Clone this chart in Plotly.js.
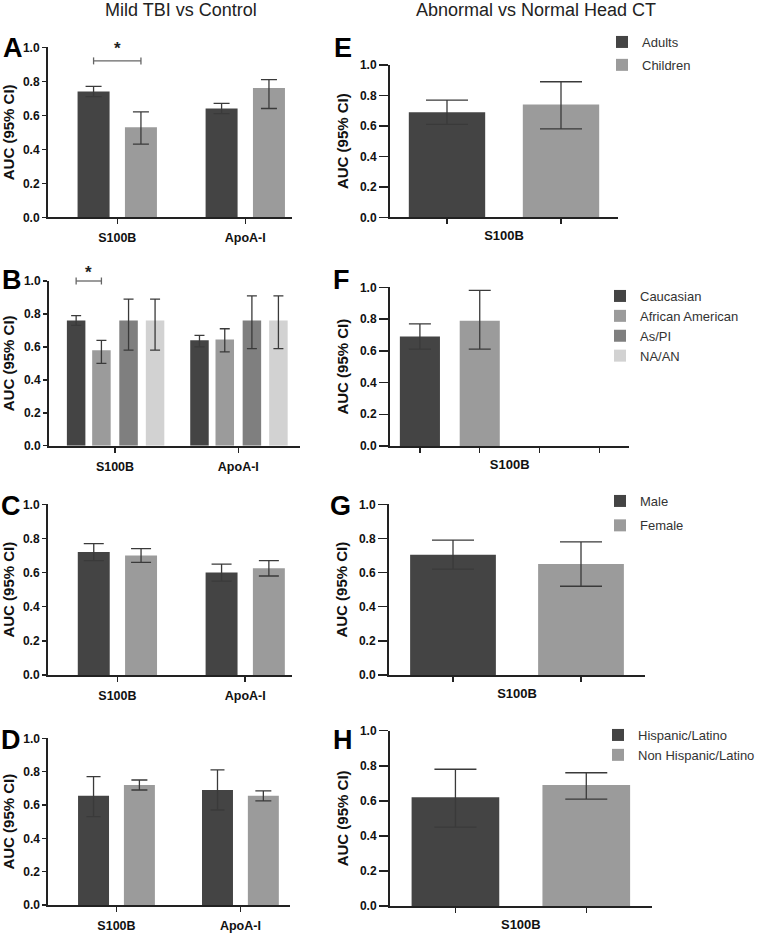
<!DOCTYPE html>
<html>
<head>
<meta charset="utf-8">
<script src="https://cdn.plot.ly/plotly-3.0.1.min.js"></script>
<style>
  html, body { margin: 0; padding: 0; background: #fff; }
  #chart { width: 765px; height: 933px; }
</style>
</head>
<body>
<div id="chart"></div>
<script>
// --- Data (AUC with 95% CI) ---

const mildGroups = ["S100B", "ApoA-I"];

// A: age
const ageNames = ["Adults", "Children"];
const adultsAuc = [0.74, 0.64];
const adultsLo = [0.71, 0.61];
const adultsHi = [0.77, 0.67];
const childrenAuc = [0.53, 0.76];
const childrenLo = [0.43, 0.64];
const childrenHi = [0.62, 0.81];

// B: race
const raceNames = ["Caucasian", "African American", "As/PI", "NA/AN"];
const raceAuc = [[0.76, 0.64], [0.58, 0.645], [0.76, 0.76], [0.76, 0.76]];
const raceLo = [[0.73, 0.60], [0.50, 0.57], [0.58, 0.59], [0.58, 0.59]];
const raceHi = [[0.79, 0.67], [0.64, 0.71], [0.89, 0.91], [0.89, 0.91]];

// C: sex
const sexNames = ["Male", "Female"];
const maleAuc = [0.72, 0.60];
const maleLo = [0.67, 0.55];
const maleHi = [0.77, 0.65];
const femaleAuc = [0.70, 0.625];
const femaleLo = [0.66, 0.58];
const femaleHi = [0.74, 0.67];

// D: ethnicity
const ethNames = ["Hispanic/Latino", "Non Hispanic/Latino"];
const hispAuc = [0.655, 0.69];
const hispLo = [0.53, 0.57];
const hispHi = [0.77, 0.81];
const nonHispAuc = [0.72, 0.655];
const nonHispLo = [0.69, 0.625];
const nonHispHi = [0.75, 0.685];

// E-H: abnormal vs normal head CT, S100B only
const ctAgeAuc = [0.69, 0.74];
const ctAgeLo = [0.61, 0.58];
const ctAgeHi = [0.77, 0.89];
const ctRaceAuc = [0.69, 0.79];
const ctRaceLo = [0.61, 0.61];
const ctRaceHi = [0.77, 0.98];
const ctSexAuc = [0.705, 0.65];
const ctSexLo = [0.62, 0.52];
const ctSexHi = [0.79, 0.78];
const ctEthAuc = [0.62, 0.69];
const ctEthLo = [0.45, 0.61];
const ctEthHi = [0.78, 0.76];

const yTicks = [0, 0.2, 0.4, 0.6, 0.8, 1.0];

// --- Styles ---
const DARK = "#444444";
const LIGHT = "#9b9b9b";
const MID = "#7f7f7f";
const PALE = "#d2d2d2";
const raceColors = [DARK, LIGHT, MID, PALE];
const FONT = "Liberation Sans, Arial, sans-serif";
const W = 765, H = 933;

// pixel boxes of each subplot (x: left/right, y: top(1.0)/bottom(0.0))
const panels = {
    A: { n: 1, x: [48, 292], y: [47.3, 217.3], range: [-0.541, 1.365] },
    B: { n: 2, x: [49, 300], y: [281, 445.7], range: [-0.535, 1.5] },
    C: { n: 3, x: [48, 292], y: [504.3, 675], range: [-0.543, 1.366] },
    D: { n: 4, x: [48.3, 290], y: [738.3, 905], range: [-0.55, 1.4] },
    E: { n: 5, x: [390, 618], y: [65, 217.3], range: [-0.5, 1.5] },
    F: { n: 6, x: [390, 629.3], y: [287.3, 446], range: [-0.5, 3.5] },
    G: { n: 7, x: [389, 645], y: [504.3, 675], range: [-0.5, 1.5] },
    H: { n: 8, x: [390, 651.7], y: [730.7, 906], range: [-0.5, 1.5] },
};

function errs(val, lo, hi) {
    return {
        type: "data",
        symmetric: false,
        array: val.map((v, i) => hi[i] - v),
        arrayminus: val.map((v, i) => v - lo[i]),
    };
}

function bar(p, name, x, y, lo, hi, color, width, offset, cap, legend) {
    const sfx = p.n === 1 ? "" : p.n;
    return {
        type: "bar",
        name: name,
        x: x,
        y: y,
        width: width,
        offset: offset,
        xaxis: "x" + sfx,
        yaxis: "y" + sfx,
        marker: { color: color, line: { width: 0 } },
        error_y: Object.assign(errs(y, lo, hi), { color: "#3a3a3a", thickness: 1.3, width: cap }),
        showlegend: !!legend,
        legend: legend || "legend",
        legendgroup: legend ? name : undefined,
        hoverinfo: "none",
    };
}

const traces = [];
const P = panels;

// A
traces.push(bar(P.A, ageNames[0], mildGroups, adultsAuc, adultsLo, adultsHi, DARK, 0.25, -0.31, 8, "legend"));
traces.push(bar(P.A, ageNames[1], mildGroups, childrenAuc, childrenLo, childrenHi, LIGHT, 0.25, 0.06, 8, "legend"));
// B
const raceOffsets = [-0.39, -0.185, 0.035, 0.25];
raceNames.forEach((nm, i) => {
    traces.push(bar(P.B, nm, mildGroups, raceAuc[i], raceLo[i], raceHi[i], raceColors[i], 0.15, raceOffsets[i], 5, "legend2"));
});
// C
traces.push(bar(P.C, sexNames[0], mildGroups, maleAuc, maleLo, maleHi, DARK, 0.25, -0.31, 10, "legend3"));
traces.push(bar(P.C, sexNames[1], mildGroups, femaleAuc, femaleLo, femaleHi, LIGHT, 0.25, 0.06, 10, "legend3"));
// D
traces.push(bar(P.D, ethNames[0], mildGroups, hispAuc, hispLo, hispHi, DARK, 0.25, -0.31, 7, "legend4"));
traces.push(bar(P.D, ethNames[1], mildGroups, nonHispAuc, nonHispLo, nonHispHi, LIGHT, 0.25, 0.06, 8, "legend4"));

// E-H : one bar per category
function ctBars(p, names, auc, lo, hi, colors, cap) {
    names.forEach((nm, i) => {
        if (i >= auc.length) return;
        traces.push(bar(p, nm, [nm], [auc[i]], [lo[i]], [hi[i]], colors[i], 0.67, -0.335, cap, null));
    });
}
ctBars(P.E, ageNames, ctAgeAuc, ctAgeLo, ctAgeHi, [DARK, LIGHT], 21);
ctBars(P.F, raceNames, ctRaceAuc, ctRaceLo, ctRaceHi, raceColors, 11);
ctBars(P.G, sexNames, ctSexAuc, ctSexLo, ctSexHi, [DARK, LIGHT], 21);
ctBars(P.H, ethNames, ctEthAuc, ctEthLo, ctEthHi, [DARK, LIGHT], 21);

// --- Layout ---
const layout = {
    width: W,
    height: H,
    margin: { l: 0, r: 0, t: 0, b: 0 },
    paper_bgcolor: "#fff",
    plot_bgcolor: "#fff",
    font: { family: FONT, color: "#222" },
    barmode: "group",
    showlegend: true,
    annotations: [],
    shapes: [],
};

const catsFor = { E: ageNames, F: raceNames, G: sexNames, H: ethNames };

Object.keys(panels).forEach((key) => {
    const p = panels[key];
    const sfx = p.n === 1 ? "" : p.n;
    const right = p.n > 4;
    layout["xaxis" + sfx] = {
        domain: [p.x[0] / W, p.x[1] / W],
        anchor: "y" + sfx,
        type: "category",
        categoryorder: "array",
        categoryarray: right ? catsFor[key] : mildGroups,
        range: p.range,
        showline: true,
        linecolor: "#222",
        linewidth: 2,
        ticks: "outside",
        ticklen: 5,
        tickwidth: 1.5,
        tickcolor: "#222",
        showgrid: false,
        zeroline: false,
        fixedrange: true,
        showticklabels: !right,
        ticklabelstandoff: 3,
        tickfont: { size: 12.5, family: FONT, color: "#111", weight: "bold" },
        title: right
            ? { text: "<b>S100B</b>", font: { size: 13, family: FONT, color: "#111" }, standoff: 8 }
            : { text: "" },
    };
    layout["yaxis" + sfx] = {
        domain: [1 - p.y[1] / H, 1 - p.y[0] / H],
        anchor: "x" + sfx,
        range: [0, 1],
        tickvals: yTicks,
        tickformat: ".1f",
        showline: true,
        linecolor: "#222",
        linewidth: 2,
        ticks: "outside",
        ticklen: right ? 9 : 4,
        tickwidth: 1.5,
        tickcolor: "#222",
        showgrid: false,
        zeroline: false,
        fixedrange: true,
        tickfont: { size: 12, family: FONT, color: "#111", weight: "bold" },
        title: { text: "<b>AUC (95% CI)</b>", font: { size: 15, family: FONT, color: "#111" }, standoff: right ? 8 : 10 },
    };
});

// panel letters
const letterPos = {
    A: [12.5, 48.5], B: [11.5, 280], C: [11, 506], D: [11, 740],
    E: [343, 48.5], F: [341.5, 280], G: [340, 506], H: [343, 740],
};
Object.keys(letterPos).forEach((k) => {
    layout.annotations.push({
        text: "<b>" + k + "</b>",
        xref: "paper", yref: "paper",
        x: letterPos[k][0] / W, y: 1 - letterPos[k][1] / H,
        xanchor: "center", yanchor: "middle",
        showarrow: false,
        font: { size: 27, family: FONT, color: "#000" },
    });
});

// column titles
[["Mild TBI vs Control", 181], ["Abnormal vs Normal Head CT", 536]].forEach(([t, cx]) => {
    layout.annotations.push({
        text: t, xref: "paper", yref: "paper",
        x: cx / W, y: 1 - 10 / H, xanchor: "center", yanchor: "middle",
        showarrow: false, font: { size: 18, family: FONT, color: "#222" },
    });
});

// significance brackets (between bar centres)
function toPaper(p, cat, val) {
    const px = p.x[0] + (cat - p.range[0]) / (p.range[1] - p.range[0]) * (p.x[1] - p.x[0]);
    const py = p.y[1] - val * (p.y[1] - p.y[0]);
    return [px, py];
}
function bracket(p, c1, c2, yv, starGap) {
    const [x1, y] = toPaper(p, c1, yv);
    const [x2] = toPaper(p, c2, yv);
    const line = { type: "line", xref: "paper", yref: "paper", line: { color: "#666", width: 1.3 } };
    layout.shapes.push(Object.assign({}, line, { x0: x1 / W, x1: x2 / W, y0: 1 - y / H, y1: 1 - y / H }));
    [x1, x2].forEach((xx) => {
        layout.shapes.push(Object.assign({}, line, { x0: xx / W, x1: xx / W, y0: 1 - (y - 3.5) / H, y1: 1 - (y + 3.5) / H }));
    });
    layout.annotations.push({
        text: "<b>*</b>", xref: "paper", yref: "paper",
        x: (x1 + x2) / 2 / W, y: 1 - (y - starGap) / H,
        xanchor: "center", yanchor: "middle", showarrow: false,
        font: { size: 17, family: FONT, color: "#222" },
    });
}
bracket(P.A, -0.31 + 0.125, 0.06 + 0.125, 0.92, 12);
bracket(P.B, raceOffsets[0] + 0.075, raceOffsets[1] + 0.075, 1.0, 8);

// legends (one per right-hand panel)
const legFont = { size: 13, family: FONT, color: "#333" };
function legendAt(xpx, ytop, gap) {
    return {
        x: xpx / W, y: 1 - ytop / H, xanchor: "left", yanchor: "top",
        bgcolor: "rgba(0,0,0,0)", font: legFont, tracegroupgap: gap,
        traceorder: "grouped",
    };
}
layout.legend = legendAt(602, 27, 3);
layout.legend2 = legendAt(600, 281, 0);
layout.legend3 = legendAt(600, 486, 4.5);
layout.legend4 = legendAt(598, 720, 0);

Plotly.newPlot("chart", traces, layout, { staticPlot: true, displayModeBar: false });
</script>
</body>
</html>
